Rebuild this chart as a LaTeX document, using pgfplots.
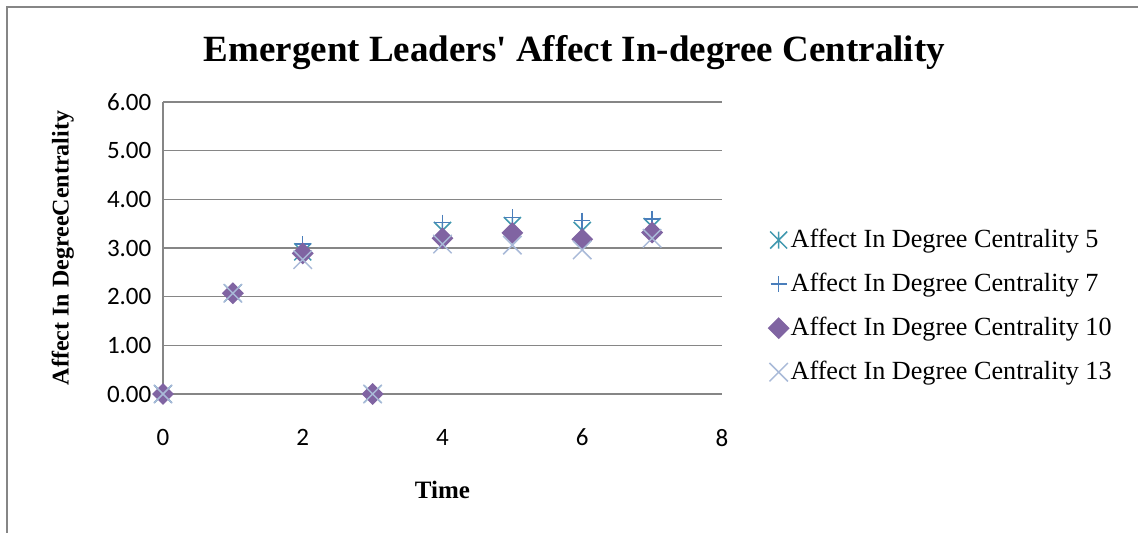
\documentclass[border=0pt]{standalone}
\usepackage{fontspec}
\setmainfont{Liberation Serif}[Ligatures=TeXOff]
\newfontfamily\tickfont{Carlito}
\usepackage{pgfplots}
\pgfplotsset{compat=1.18}

\definecolor{gridgray}{HTML}{868686}
\definecolor{cfive}{HTML}{4198AF}
\definecolor{cseven}{HTML}{4A7EBB}
\definecolor{cten}{HTML}{8064A2}
\definecolor{cthirteen}{HTML}{A9BAD8}

% Excel style star marker: an x with a vertical stroke
\pgfdeclareplotmark{xstar}{%
  \pgfpathmoveto{\pgfqpoint{0pt}{\pgfplotmarksize}}%
  \pgfpathlineto{\pgfqpoint{0pt}{-\pgfplotmarksize}}%
  \pgfpathmoveto{\pgfqpoint{-\pgfplotmarksize}{-\pgfplotmarksize}}%
  \pgfpathlineto{\pgfqpoint{\pgfplotmarksize}{\pgfplotmarksize}}%
  \pgfpathmoveto{\pgfqpoint{-\pgfplotmarksize}{\pgfplotmarksize}}%
  \pgfpathlineto{\pgfqpoint{\pgfplotmarksize}{-\pgfplotmarksize}}%
  \pgfusepathqstroke}

\begin{document}
\begin{tikzpicture}
\begin{axis}[
    name=ax,
    scale only axis,
    width=279.5pt,
    height=146pt,
    xmin=0, xmax=8,
    ymin=0, ymax=6,
    xtick={0,2,4,6,8},
    ytick={0,1,2,3,4,5,6},
    axis x line=bottom,
    axis y line=left,
    axis line style={gridgray, line width=0.6pt, -},
    ymajorgrids,
    major grid style={gridgray, line width=0.6pt},
    major tick length=0pt,
    tick label style={font=\fontsize{12.5}{14}\tickfont},
    /pgf/number format/assume math mode=true,
    yticklabel style={xshift=-2.3pt,
        /pgf/number format/.cd, fixed, fixed zerofill, precision=2,
        assume math mode=true, /tikz/.cd},
    xticklabel style={yshift=-14pt},
    title={Emergent Leaders' Affect In-degree Centrality},
    title style={font=\fontsize{18.5}{22}\selectfont\bfseries,
        at={(axis description cs:0.736,1.098)}, anchor=base},
    xlabel={Time},
    xlabel style={font=\fontsize{12.5}{15}\selectfont\bfseries,
        at={(axis description cs:0.5,-0.329)}, anchor=center},
    ylabel={Affect In DegreeCentrality},
    ylabel style={font=\fontsize{12}{14}\selectfont\bfseries,
        at={(axis description cs:-0.179,0.5)}, anchor=center},
    legend style={at={(axis description cs:1.083,0.579)}, anchor=north west,
        draw=none, fill=none, inner sep=0pt,
        font=\fontsize{13.1}{15}\selectfont, row sep=7.3pt,
        /tikz/every odd column/.style={column sep=-1pt}},
    legend cell align=left,
    legend image code/.code={\draw[#1] plot coordinates {(0pt,0pt)};},
    every axis plot/.append style={only marks, line width=0.75pt},
]
\addplot[cfive, mark=xstar, mark size=4.25pt] coordinates {
    (0,0) (1,2.07) (2,2.92) (3,0) (4,3.36) (5,3.46) (6,3.36) (7,3.44)
};
\addplot[cseven, mark=+, mark size=4pt] coordinates {
    (0,0) (1,2.07) (2,3.08) (3,0) (4,3.52) (5,3.63) (6,3.56) (7,3.6)
};
\addplot[cten, mark=square*, mark size=3.5pt, mark options={rotate=45, draw=cten, fill=cten}] coordinates {
    (0,0) (1,2.07) (2,2.89) (3,0) (4,3.2) (5,3.31) (6,3.18) (7,3.32)
};
\addplot[cthirteen, mark=x, mark size=6.5pt] coordinates {
    (0,0) (1,2.07) (2,2.76) (3,0) (4,3.08) (5,3.06) (6,2.96) (7,3.2)
};
\legend{Affect In Degree Centrality 5, Affect In Degree Centrality 7,
        Affect In Degree Centrality 10, Affect In Degree Centrality 13}
\end{axis}
\draw[gridgray, line width=0.75pt]
    ([shift={(-78pt,-69.5pt)}]ax.south west) -- ([shift={(-78pt,193.5pt)}]ax.south west)
    -- ([shift={(487.5pt,193.5pt)}]ax.south west);
\pgfresetboundingbox
\path ([shift={(-81.5pt,-69.5pt)}]ax.south west) rectangle ([shift={(487.5pt,197pt)}]ax.south west);
\end{tikzpicture}
\end{document}
